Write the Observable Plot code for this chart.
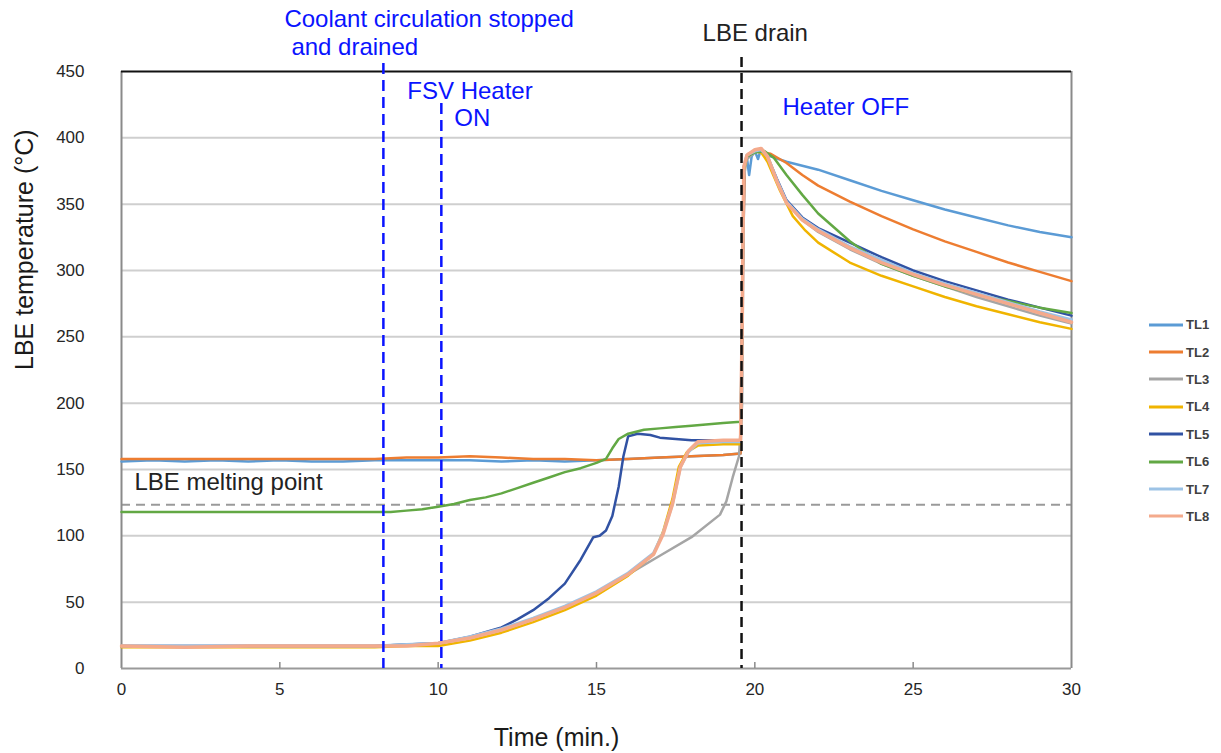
<!DOCTYPE html>
<html>
<head>
<meta charset="utf-8">
<script src="https://cdn.jsdelivr.net/npm/d3@7"></script>
<script src="https://cdn.jsdelivr.net/npm/@observablehq/plot@0.6"></script>
<style>
  html, body { margin: 0; padding: 0; background: #fff; }
  #wrap { position: relative; width: 1221px; height: 753px; }
  #legend { position: absolute; left: 1149px; top: 311px; font-family: "Liberation Sans", Arial, sans-serif; }
  .li { display: flex; align-items: center; height: 27.4px; }
  .li svg { display: block; }
  .li span { font-size: 13px; font-weight: bold; color: #404040; margin-left: 3px; }
</style>
</head>
<body>
<div id="wrap">
  <div id="chart"></div>
  <div id="legend"></div>
</div>
<script>
// ---------- data (time in minutes, temperature in °C) ----------
const seriesNames = ["TL1", "TL2", "TL3", "TL4", "TL5", "TL6", "TL7", "TL8"];
const seriesColors = ["#5B9BD5", "#ED7D31", "#A5A5A5", "#F0B400", "#3152A3", "#62A844", "#9DC3E6", "#F4AA8C"];

const TL1 = [[0,156],[1,157],[2,156],[3,157],[4,156],[5,157],[6,156],[7,156],[8,157],[9,157],[10,157],[11,157],[12,156],[13,157],[14,156],[15,157],[16,158],[17,159],[18,160],[19,161],[19.55,162],[19.62,300],[19.68,378],[19.75,385],[19.82,372],[19.9,386],[20,390],[20.1,384],[20.2,392],[20.3,388],[20.5,386],[21,382],[22,376],[23,368],[24,360],[25,353],[26,346],[27,340],[28,334],[29,329],[30,325]];
const TL2 = [[0,158],[2,158],[4,158],[6,158],[8,158],[9,159],[10,159],[11,160],[12,159],[13,158],[14,158],[15,157],[16,158],[17,159],[18,160],[19,161],[19.55,162],[19.62,300],[19.68,380],[19.8,388],[20,390],[20.2,389],[20.5,388],[21,381],[21.5,372],[22,364],[23,352],[24,341],[25,331],[26,322],[27,314],[28,306],[29,299],[30,292]];
const TL3 = [[0,17],[2,17],[4,17],[6,17],[8,17],[9,18],[10,19],[11,23],[12,29],[13,37],[14,46],[15,57],[16,71],[17,85],[18,99],[18.9,116],[19.1,126],[19.3,144],[19.5,160],[19.6,200],[19.65,370],[19.75,384],[20,389],[20.2,391],[20.4,385],[20.7,368],[21,352],[21.5,338],[22,329],[23,316],[24,305],[25,296],[26,288],[27,280],[28,273],[29,266],[30,260]];
const TL4 = [[0,16],[2,16],[4,16],[6,16],[8,16],[9,17],[10,17],[11,21],[12,27],[13,35],[14,44],[15,55],[16,70],[16.8,86],[17.1,103],[17.4,128],[17.6,152],[17.85,163],[18.2,168],[19,169],[19.55,169],[19.6,250],[19.65,375],[19.75,386],[20,390],[20.2,389],[20.4,382],[20.8,360],[21.2,341],[21.6,330],[22,321],[23,306],[24,296],[25,288],[26,280],[27,273],[28,267],[29,261],[30,256]];
const TL5 = [[0,17],[2,17],[4,17],[6,17],[8,17],[9,18],[10,19],[11,24],[12,31],[12.5,37],[13,44],[13.5,53],[14,64],[14.5,82],[14.9,99],[15.1,100],[15.3,104],[15.5,115],[15.7,137],[15.85,160],[16,175],[16.3,177],[16.7,176],[17,174],[17.5,173],[18,172],[19,172],[19.55,172],[19.6,260],[19.65,378],[19.75,386],[20,390],[20.2,391],[20.4,386],[20.7,369],[21,353],[21.5,340],[22,332],[23,321],[24,310],[25,300],[26,292],[27,285],[28,278],[29,272],[30,266]];
const TL6 = [[0,118],[2,118],[4,118],[6,118],[8,118],[8.5,118],[9,119],[9.5,120],[10,122],[10.5,124],[11,127],[11.5,129],[12,132],[12.5,136],[13,140],[13.5,144],[14,148],[14.5,151],[15,155],[15.3,158],[15.5,166],[15.7,173],[16,177],[16.5,180],[17,181],[17.5,182],[18,183],[19,185],[19.55,186],[19.6,260],[19.65,378],[19.75,386],[20,389],[20.3,390],[20.6,385],[21,372],[21.5,357],[22,343],[23,322],[24,305],[25,296],[26,288],[27,282],[28,277],[29,272],[30,268]];
const TL7 = [[0,17],[2,17],[4,17],[6,17],[8,17],[9,18],[10,19],[11,24],[12,30],[13,38],[14,47],[15,58],[16,72],[16.8,87],[17.1,102],[17.4,124],[17.65,152],[17.9,163],[18.2,170],[19,171],[19.55,171],[19.6,260],[19.65,378],[19.75,387],[20,390],[20.2,391],[20.4,386],[20.7,368],[21,352],[21.5,339],[22,331],[23,318],[24,308],[25,298],[26,290],[27,283],[28,276],[29,269],[30,263]];
const TL8 = [[0,17],[2,16],[4,17],[6,17],[8,17],[9,17],[10,19],[11,23],[12,29],[13,37],[14,46],[15,57],[16,71],[16.8,86],[17.1,101],[17.4,124],[17.65,152],[17.9,164],[18.2,171],[19,172],[19.55,172],[19.6,260],[19.65,378],[19.75,387],[20,391],[20.2,392],[20.4,386],[20.7,367],[21,351],[21.5,338],[22,330],[23,317],[24,306],[25,297],[26,289],[27,282],[28,275],[29,268],[30,261]];

const xTicks = [0, 5, 10, 15, 20, 25, 30];
const yTicks = [0, 50, 100, 150, 200, 250, 300, 350, 400, 450];
const meltingPoint = 123.5;
const coolantStopTime = 8.27;
const heaterOnTime = 10.1;
const drainTime = 19.58;

// ---------- build table ----------
const seriesPoints = [TL1, TL2, TL3, TL4, TL5, TL6, TL7, TL8];
const rows = [];
seriesPoints.forEach((pts, i) => pts.forEach(([t, v]) => rows.push({t, v, s: seriesNames[i]})));
const widthOf = {TL7: 3, TL8: 3.5};

const font = "'Liberation Sans', Arial, sans-serif";
const blue = "#0a14ff";
const annSize = 24;

const chart = Plot.plot({
  width: 1221,
  height: 753,
  marginLeft: 121,
  marginRight: 150,
  marginTop: 71,
  marginBottom: 85,
  style: {fontFamily: font, fontSize: "17px", color: "#262626", background: "white", overflow: "visible"},
  x: {domain: [0, 30]},
  y: {domain: [0, 450]},
  color: {domain: seriesNames, range: seriesColors},
  marks: [
    Plot.gridY(yTicks.filter(d => d > 0 && d < 450), {stroke: "#cfcfcf", strokeOpacity: 1, strokeWidth: 2}),
    Plot.ruleY([meltingPoint], {stroke: "#9a9a9a", strokeWidth: 2, strokeDasharray: "9,6"}),
    Plot.ruleX([0, 30], {stroke: "#8a8a8a", strokeWidth: 2}),
    Plot.ruleY([0], {stroke: "#9a9a9a", strokeWidth: 2}),
    Plot.ruleY([450], {stroke: "#111", strokeWidth: 2}),
    Plot.axisY(yTicks, {tickSize: 0, tickPadding: 37, label: null, fontSize: 17}),
    Plot.axisX(xTicks, {tickSize: 0, tickPadding: 14, label: null, fontSize: 17}),
    Plot.tickX(xTicks.slice(1, -1), {x: d => d, frameAnchor: "bottom", stroke: "#8a8a8a", strokeWidth: 1.5, insetTop: 591}),
    ...seriesNames.map(name => Plot.line(rows.filter(r => r.s === name), {
      x: "t", y: "v", stroke: "s", strokeWidth: widthOf[name] || 2.5, strokeLinejoin: "round"
    })),
    Plot.ruleX([coolantStopTime], {stroke: blue, strokeWidth: 2.5, strokeDasharray: "11,6", insetTop: -8}),
    Plot.ruleX([heaterOnTime], {stroke: blue, strokeWidth: 2.5, strokeDasharray: "11,6", insetTop: 32}),
    Plot.ruleX([drainTime], {stroke: "#111", strokeWidth: 2.5, strokeDasharray: "10,6", insetTop: -14}),
    Plot.text(["Coolant circulation stopped"], {x: coolantStopTime, frameAnchor: "top", textAnchor: "start", lineAnchor: "middle", dx: -99, dy: -52, fill: blue, fontSize: annSize}),
    Plot.text(["and drained"], {x: coolantStopTime, frameAnchor: "top", textAnchor: "start", lineAnchor: "middle", dx: -92, dy: -24, fill: blue, fontSize: annSize}),
    Plot.text(["FSV Heater"], {x: heaterOnTime, frameAnchor: "top", textAnchor: "start", lineAnchor: "middle", dx: -34, dy: 20, fill: blue, fontSize: annSize}),
    Plot.text(["ON"], {x: heaterOnTime, frameAnchor: "top", textAnchor: "start", lineAnchor: "middle", dx: 13, dy: 47, fill: blue, fontSize: annSize}),
    Plot.text(["LBE drain"], {x: drainTime, frameAnchor: "top", textAnchor: "start", lineAnchor: "middle", dx: -39, dy: -38, fill: "#222", fontSize: annSize}),
    Plot.text(["Heater OFF"], {x: drainTime, frameAnchor: "top", textAnchor: "start", lineAnchor: "middle", dx: 41, dy: 36, fill: blue, fontSize: annSize}),
    Plot.text(["LBE melting point"], {y: meltingPoint, frameAnchor: "left", textAnchor: "start", lineAnchor: "middle", dx: 13, dy: -22, fill: "#222", fontSize: annSize}),
    Plot.text(["LBE temperature (°C)"], {frameAnchor: "left", rotate: -90, dx: -97, fill: "#1a1a1a", fontSize: 25}),
    Plot.text(["Time (min.)"], {frameAnchor: "bottom", lineAnchor: "middle", dx: -40, dy: 69, fill: "#1a1a1a", fontSize: 25})
  ]
});
document.getElementById("chart").appendChild(chart);

// ---------- legend ----------
const legend = document.getElementById("legend");
seriesNames.forEach((name, i) => {
  const item = document.createElement("div");
  item.className = "li";
  item.innerHTML = `<svg width="34" height="6"><line x1="0" y1="3" x2="34" y2="3" stroke="${seriesColors[i]}" stroke-width="3"/></svg><span>${name}</span>`;
  legend.appendChild(item);
});
</script>
</body>
</html>
